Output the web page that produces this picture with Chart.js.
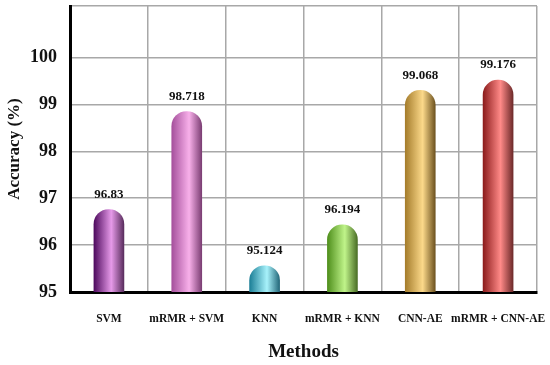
<!DOCTYPE html>
<html>
<head>
<meta charset="utf-8">
<script src="https://cdn.jsdelivr.net/npm/chart.js@4.4.0/dist/chart.umd.min.js"></script>
<style>
    html, body { margin: 0; padding: 0; background: #ffffff; }
    #wrap { width: 550px; height: 365px; }
</style>
</head>
<body>
<div id="wrap"><canvas id="accChart"></canvas></div>
<script>
// Methods on the x axis
const methods = ['SVM', 'mRMR + SVM', 'KNN', 'mRMR + KNN', 'CNN-AE', 'mRMR + CNN-AE'];

// Accuracy printed above each bar (%)
const accuracy = [96.83, 98.718, 95.124, 96.194, 99.068, 99.176];

// Height the bars are actually drawn to in the figure
const barHeights = [96.76, 98.85, 95.56, 96.43, 99.3, 99.52];

// Y axis range and ticks
const yMin = 95;
const yMax = 101.1;
const yTicks = [95, 96, 97, 98, 99, 100];

// Capsule shading per bar: [left edge, highlight, right edge]
const barShades = [
    ['#4e0a5e', '#e69ae9', '#5a2d5e'],
    ['#a5509c', '#f8b0ea', '#7c3e74'],
    ['#1c7f97', '#a8f2fb', '#23687a'],
    ['#4f8f1c', '#c0f48a', '#4a6e26'],
    ['#a57d2c', '#fcd98a', '#6e5320'],
    ['#8c1c1c', '#ff8a88', '#6e2a2a']
];

const serif = "'Liberation Serif', 'Times New Roman', serif";

function capsuleFill(context) {
    const chart = context.chart;
    const xScale = chart.scales.x;
    const shade = barShades[context.dataIndex] || barShades[0];
    const cx = xScale ? xScale.getPixelForValue(context.dataIndex) : NaN;
    if (!isFinite(cx)) return shade[1];
    const g = chart.ctx.createLinearGradient(cx - 15, 0, cx + 15, 0);
    g.addColorStop(0, shade[0]);
    g.addColorStop(0.58, shade[1]);
    g.addColorStop(1, shade[2]);
    return g;
}

// Value labels above the bars
const valueLabels = {
    id: 'valueLabels',
    afterDatasetsDraw(chart) {
        const ctx = chart.ctx;
        const meta = chart.getDatasetMeta(0);
        ctx.save();
        ctx.font = 'bold 13px ' + serif;
        ctx.fillStyle = '#111111';
        ctx.textAlign = 'center';
        ctx.textBaseline = 'middle';
        meta.data.forEach((bar, i) => {
            ctx.fillText(String(accuracy[i]), bar.x, bar.y - 15);
        });
        ctx.restore();
    }
};

const config = {
    type: 'bar',
    data: {
        labels: methods,
        datasets: [{
            data: barHeights,
            backgroundColor: capsuleFill,
            borderWidth: 0,
            borderRadius: 15,
            borderSkipped: false,
            barThickness: 30
        }]
    },
    options: {
        responsive: true,
        maintainAspectRatio: false,
        animation: false,
        layout: {
            padding: { top: 6, right: 13, left: 0, bottom: 0 }
        },
        plugins: {
            legend: { display: false },
            tooltip: { enabled: false }
        },
        scales: {
            x: {
                grid: {
                    offset: true,
                    color: '#a8a8a8',
                    lineWidth: 1.5,
                    drawTicks: false
                },
                border: {
                    color: '#000000',
                    width: 3
                },
                ticks: {
                    color: '#111111',
                    padding: 20,
                    maxRotation: 0,
                    autoSkip: false,
                    font: { family: serif, weight: 'bold', size: 11.5 }
                },
                title: {
                    display: true,
                    text: 'Methods',
                    color: '#111111',
                    padding: { top: 0, bottom: 2 },
                    font: { family: serif, weight: 'bold', size: 19 }
                },
                afterFit(scale) {
                    scale.height = 73;
                    scale.paddingLeft = 0;
                    scale.paddingRight = 0;
                }
            },
            y: {
                min: yMin,
                max: yMax,
                grid: {
                    color: '#a8a8a8',
                    lineWidth: 1.5,
                    drawTicks: false
                },
                border: {
                    color: '#000000',
                    width: 3
                },
                afterBuildTicks(scale) {
                    scale.ticks = yTicks.map(v => ({ value: v })).concat([{ value: yMax }]);
                },
                ticks: {
                    color: '#111111',
                    padding: 13,
                    font: { family: serif, weight: 'bold', size: 18 },
                    callback: (v) => (yTicks.includes(v) ? String(v) : '')
                },
                title: {
                    display: true,
                    text: 'Accuracy (%)',
                    color: '#111111',
                    padding: { top: 4, bottom: 0 },
                    font: { family: serif, weight: 'bold', size: 17 }
                },
                afterFit(scale) {
                    scale.width = 70;
                    scale.paddingTop = 0;
                    scale.paddingBottom = 0;
                }
            }
        }
    },
    plugins: [valueLabels]
};

const accChart = new Chart(document.getElementById('accChart'), config);
</script>
</body>
</html>
